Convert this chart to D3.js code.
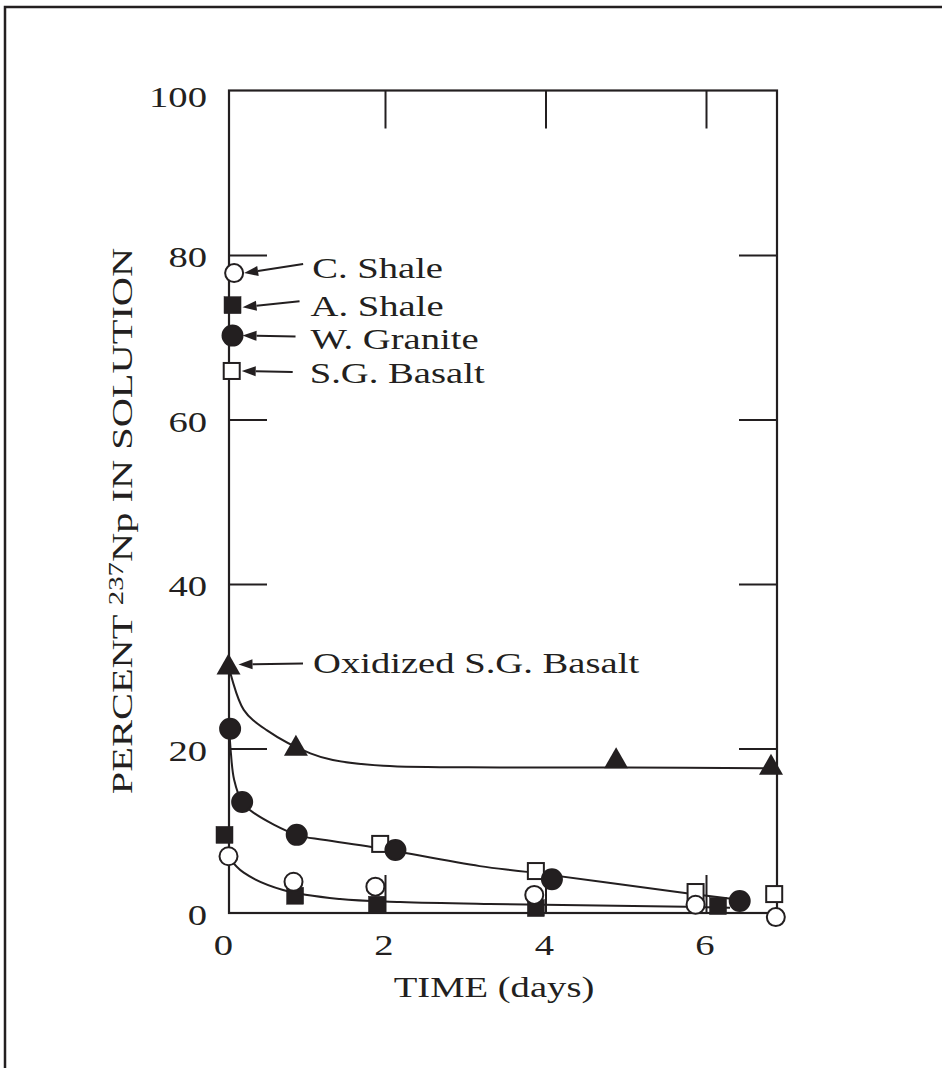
<!DOCTYPE html>
<html><head><meta charset="utf-8">
<script src="https://cdn.jsdelivr.net/npm/d3@7"></script>
<style>html,body{margin:0;padding:0;background:#fff;}svg{display:block;}</style>
</head><body>
<script>
// ---- data ----
const xTickValues = [0, 2, 4, 6];
const yTickValues = [0, 20, 40, 60, 80, 100];
const xInnerTicks = [2, 4, 6];
const yInnerTicks = [20, 40, 60, 80];

const cShaleX = [0.05, 0.86, 1.88, 3.86, 5.87, 6.87];
const cShaleY = [6.9, 3.8, 3.2, 2.2, 1.0, -0.5];
const aShaleX = [0.0, 0.88, 1.9, 3.88, 6.15];
const aShaleY = [9.5, 2.1, 1.0, 0.6, 0.85];
const graniteX = [0.07, 0.22, 0.9, 2.13, 4.08, 6.42];
const graniteY = [22.4, 13.5, 9.5, 7.65, 4.1, 1.45];
const basaltX = [1.94, 3.88, 5.87, 6.85];
const basaltY = [8.4, 5.1, 2.55, 2.3];
const oxBasaltX = [0.05, 0.89, 4.88, 6.81];
const oxBasaltY = [30.1, 20.2, 18.7, 17.9];

// labelled starting values
const legendNames = ["C. Shale", "A. Shale", "W. Granite", "S.G. Basalt"];
const legendSymbols = ["openCircle", "filledSquare", "filledCircle", "openSquare"];
const legendX = [0.12, 0.1, 0.1, 0.09];
const legendY = [77.8, 73.9, 70.2, 65.9];
const oxLabel = "Oxidized S.G. Basalt";

// fitted curves drawn on the chart
const oxCurveX = [0.05, 0.24, 0.53, 1.07, 1.35, 1.98, 3.43, 5.0, 6.8];
const oxCurveY = [30.1, 24.7, 22.2, 19.4, 18.6, 17.9, 17.7, 17.7, 17.6];
const granCurveX = [0.06, 0.08, 0.12, 0.22, 0.36, 0.9, 1.23, 1.85, 3.18, 3.77, 5.76, 6.34];
const granCurveY = [22.4, 19.4, 16.2, 13.5, 12.2, 9.5, 8.9, 8.0, 5.7, 5.0, 2.4, 1.7];
const shaleCurveX = [0.05, 0.24, 0.73, 1.44, 2.19, 3.3, 5.75, 6.3];
const shaleCurveY = [6.8, 4.9, 2.8, 1.7, 1.35, 1.1, 0.75, 0.65];

// ---- drawing ----
const W = 942, H = 1068;
const ink = "#231f20";
const FONT = "'Liberation Serif','Times New Roman',Times,serif";
const FS = 29.5, SX = 1.31;

const svg = d3.select("body").append("svg").attr("width", W).attr("height", H);

// outer border (top and left)
svg.append("path").attr("d", `M5,${H} L5,7 L${W + 5},7`)
  .attr("fill", "none").attr("stroke", ink).attr("stroke-width", 2.5);

const x = d3.scaleLinear().domain([0, 6]).range([224.5, 706]);
const y = d3.scaleLinear().domain([0, 100]).range([913, 90.5]);
const pLeft = 229, pRight = 777, pTop = y(100), pBottom = y(0);

// frame
svg.append("rect").attr("x", pLeft).attr("y", pTop).attr("width", pRight - pLeft).attr("height", pBottom - pTop)
  .attr("fill", "none").attr("stroke", ink).attr("stroke-width", 2.2);

// inner ticks via axes
const TL = 38;
function styleAxis(g) {
  g.select(".domain").remove();
  g.selectAll("line").attr("stroke", ink).attr("stroke-width", 2);
  g.selectAll("text").remove();
}
svg.append("g").attr("transform", `translate(${pLeft},0)`)
  .call(d3.axisLeft(y).tickValues(yInnerTicks).tickSize(-TL)).call(styleAxis);
svg.append("g").attr("transform", `translate(${pRight},0)`)
  .call(d3.axisRight(y).tickValues(yInnerTicks).tickSize(-TL)).call(styleAxis);
svg.append("g").attr("transform", `translate(0,${pTop})`)
  .call(d3.axisTop(x).tickValues(xInnerTicks).tickSize(-TL)).call(styleAxis);
svg.append("g").attr("transform", `translate(0,${pBottom})`)
  .call(d3.axisBottom(x).tickValues(xInnerTicks).tickSize(-TL)).call(styleAxis);

function stretchedText(px, py, str, anchor) {
  const g = svg.append("g").attr("transform", `translate(${px},${py}) scale(${SX},1)`);
  return g.append("text").attr("x", 0).attr("y", 0).attr("text-anchor", anchor || "start")
    .attr("font-family", FONT).attr("font-size", FS).attr("fill", ink).text(str);
}

// tick labels
yTickValues.forEach(v => stretchedText(207, y(v) + (v === 100 ? 16 : 12), String(v), "end"));
xTickValues.forEach(v => stretchedText(x(v) - 1, 955, String(v), "middle"));

// axis titles
stretchedText(494, 997, "TIME (days)", "middle");
{
  const g = svg.append("g").attr("transform", `translate(132,521) rotate(-90) scale(1.37,1)`);
  const t = g.append("text").attr("text-anchor", "middle").attr("font-family", FONT)
    .attr("font-size", FS).attr("fill", ink);
  t.append("tspan").text("PERCENT ");
  t.append("tspan").attr("font-size", 21).attr("dy", -9).text("237");
  t.append("tspan").attr("dy", 9).text("Np IN SOLUTION");
}

// curves
const line = d3.line().x(d => x(d[0])).y(d => y(d[1])).curve(d3.curveCatmullRom.alpha(0.5));
[[oxCurveX, oxCurveY], [granCurveX, granCurveY], [shaleCurveX, shaleCurveY]].forEach(([xs, ys]) => {
  svg.append("path").datum(xs.map((v, i) => [v, ys[i]])).attr("d", line)
    .attr("fill", "none").attr("stroke", ink).attr("stroke-width", 2);
});

// symbols
function drawSymbol(kind, cx, cy) {
  if (kind === "openCircle" || kind === "filledCircle") {
    svg.append("circle").attr("cx", cx).attr("cy", cy).attr("r", kind === "openCircle" ? 9 : 10)
      .attr("fill", kind === "openCircle" ? "#fff" : ink).attr("stroke", ink).attr("stroke-width", 2);
  } else if (kind === "openSquare" || kind === "filledSquare") {
    const s = kind === "openSquare" ? 16 : 17;
    svg.append("rect").attr("x", cx - s / 2).attr("y", cy - s / 2).attr("width", s).attr("height", s)
      .attr("fill", kind === "openSquare" ? "#fff" : ink).attr("stroke", ink).attr("stroke-width", kind === "openSquare" ? 2 : 0.5);
  } else if (kind === "triangle") {
    const w = 24, h = 20;
    svg.append("path").attr("d", `M${cx},${cy - h * 0.6} L${cx + w / 2},${cy + h * 0.45} L${cx - w / 2},${cy + h * 0.45} Z`)
      .attr("fill", ink);
  }
}
function drawSeries(xs, ys, kind) { xs.forEach((v, i) => drawSymbol(kind, x(v), y(ys[i]))); }
drawSeries(basaltX, basaltY, "openSquare");
drawSeries(graniteX, graniteY, "filledCircle");
drawSeries(aShaleX, aShaleY, "filledSquare");
drawSeries(cShaleX, cShaleY, "openCircle");
drawSeries(oxBasaltX, oxBasaltY, "triangle");

// arrows and labels
function arrow(x1, y1, x2, y2) {
  const ang = Math.atan2(y2 - y1, x2 - x1);
  const L = 14, hw = 5;
  const bx = x2 - L * Math.cos(ang), by = y2 - L * Math.sin(ang);
  svg.append("line").attr("x1", x1).attr("y1", y1).attr("x2", bx).attr("y2", by)
    .attr("stroke", ink).attr("stroke-width", 2);
  const px = -Math.sin(ang) * hw, py = Math.cos(ang) * hw;
  svg.append("path").attr("d", `M${x2},${y2} L${bx + px},${by + py} L${bx - px},${by - py} Z`).attr("fill", ink);
}
const arrowTailDx = [66, 64, 60, 58];
const arrowTailDy = [-9, -4, 1, 1];
const labelDy = [5, 11, 13.5, 12];
legendNames.forEach((name, i) => {
  const cx = x(legendX[i]), cy = y(legendY[i]);
  drawSymbol(legendSymbols[i], cx, cy);
  arrow(cx + arrowTailDx[i] + 3, cy + arrowTailDy[i], cx + 10, cy + (i === 1 ? 2 : 0));
  stretchedText(cx + 78, cy + labelDy[i], name, "start");
});
{
  const cx = x(oxBasaltX[0]), cy = y(oxBasaltY[0]);
  arrow(303, cy - 2, cx + 10, cy - 1);
  stretchedText(313, cy + 8, oxLabel, "start");
}
</script>
</body></html>
